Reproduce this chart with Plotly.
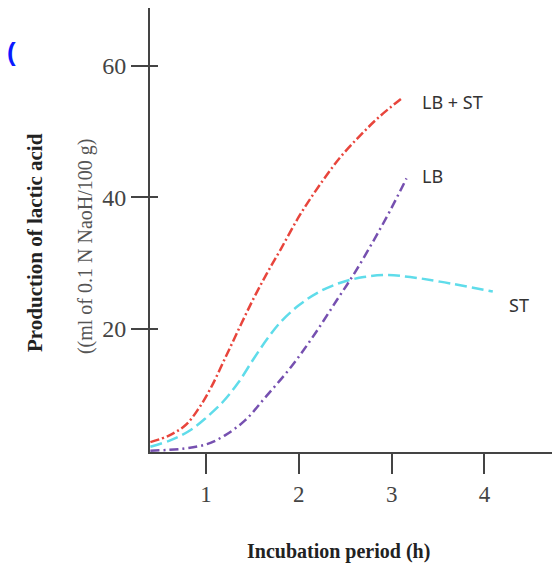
import plotly.graph_objects as go

# Data
lbst_x = [0.40, 0.60, 0.78, 0.92, 1.05, 1.20, 1.35, 1.50, 1.65, 1.80, 2.01, 2.23, 2.44, 2.66, 2.87, 3.12]
lbst_y = [2.8, 3.8, 5.4, 7.9, 11.0, 15.4, 19.9, 24.3, 28.3, 32.0, 37.3, 42.0, 46.0, 49.4, 52.3, 55.2]

lb_x = [0.40, 0.75, 1.01, 1.20, 1.42, 1.65, 1.92, 2.17, 2.41, 2.60, 2.80, 2.98, 3.16]
lb_y = [1.5, 1.8, 2.5, 3.8, 6.1, 9.8, 14.3, 19.2, 24.4, 28.5, 33.3, 37.9, 42.9]

st_x = [0.40, 0.62, 0.83, 1.00, 1.18, 1.35, 1.51, 1.66, 1.80, 2.00, 2.20, 2.44, 2.70, 2.95, 3.20, 3.52, 4.09]
st_y = [2.1, 3.1, 4.6, 6.5, 8.9, 11.9, 15.4, 18.5, 21.0, 23.6, 25.5, 27.0, 27.9, 28.2, 27.9, 27.2, 25.7]

x_ticks = [1, 2, 3, 4]
y_ticks = [20, 40, 60]

fig = go.Figure()
fig.add_trace(go.Scatter(x=lbst_x, y=lbst_y, mode="lines", line_shape="spline",
                         line=dict(color="#e8453c", width=2.5, dash="9px,3px,2px,3px"),
                         name="LB + ST", showlegend=False))
fig.add_trace(go.Scatter(x=st_x, y=st_y, mode="lines", line_shape="spline",
                         line=dict(color="#5fdcea", width=2.5, dash="12px,5px"),
                         name="ST", showlegend=False))
fig.add_trace(go.Scatter(x=lb_x, y=lb_y, mode="lines", line_shape="spline",
                         line=dict(color="#7650b0", width=2.5, dash="9px,4px,2px,4px"),
                         name="LB", showlegend=False))
# invisible trace for inside tick marks on y
fig.add_trace(go.Scatter(x=[None], y=[None], yaxis="y2", showlegend=False))

serif = "Liberation Serif, Times New Roman, serif"
lbl = dict(family="Noto Sans", size=18, color="#333")
fig.update_layout(
    width=552, height=555,
    margin=dict(l=142, r=3, t=0, b=111),
    plot_bgcolor="white", paper_bgcolor="white",
    xaxis=dict(range=[0.396, 4.782], tickvals=x_ticks, ticks="outside", ticklen=20,
               tickwidth=2, tickcolor="#444", showline=True, linecolor="#444", linewidth=2,
               showgrid=False, zeroline=False,
               tickfont=dict(family=serif, size=23, color="#444"), ticklabelstandoff=0),
    yaxis=dict(range=[1.3, 68.8], tickvals=y_ticks, ticks="outside", ticklen=17,
               tickwidth=2, tickcolor="#444", showline=True, linecolor="#444", linewidth=2,
               showgrid=False, zeroline=False,
               tickfont=dict(family=serif, size=24, color="#444")),
    yaxis2=dict(range=[1.3, 68.8], overlaying="y", side="left", tickvals=y_ticks,
                ticks="inside", ticklen=8, tickwidth=2, tickcolor="#444",
                showticklabels=False, showline=False, showgrid=False, zeroline=False),
    annotations=[
        dict(text="LB + ST", x=3.31, y=54.5, xref="x", yref="y", xanchor="left",
             showarrow=False, font=lbl),
        dict(text="LB", x=3.31, y=43.3, xref="x", yref="y", xanchor="left",
             showarrow=False, font=lbl),
        dict(text="ST", x=4.24, y=23.7, xref="x", yref="y", xanchor="left",
             showarrow=False, font=lbl),
        dict(text="<b>Incubation period (h)</b>", x=0.462, y=-0.225, xref="paper", yref="paper",
             xanchor="center", yanchor="middle", showarrow=False,
             font=dict(family=serif, size=20, color="#222")),
        dict(text="<b>Production of lactic acid</b>", x=-0.2826, y=0.473, xref="paper", yref="paper",
             xanchor="center", yanchor="middle", textangle=-90, showarrow=False,
             font=dict(family=serif, size=21, color="#222")),
        dict(text="((ml of 0.1 N NaoH/100 g)", x=-0.157, y=0.464, xref="paper", yref="paper",
             xanchor="center", yanchor="middle", textangle=-90, showarrow=False,
             font=dict(family=serif, size=20, color="#555")),
        dict(text="<b>(</b>", x=-0.34, y=0.90, xref="paper", yref="paper",
             xanchor="center", yanchor="middle", showarrow=False,
             font=dict(family="Liberation Sans", size=26, color="#0a1aff")),
    ],
)

fig.write_html("out.html")
